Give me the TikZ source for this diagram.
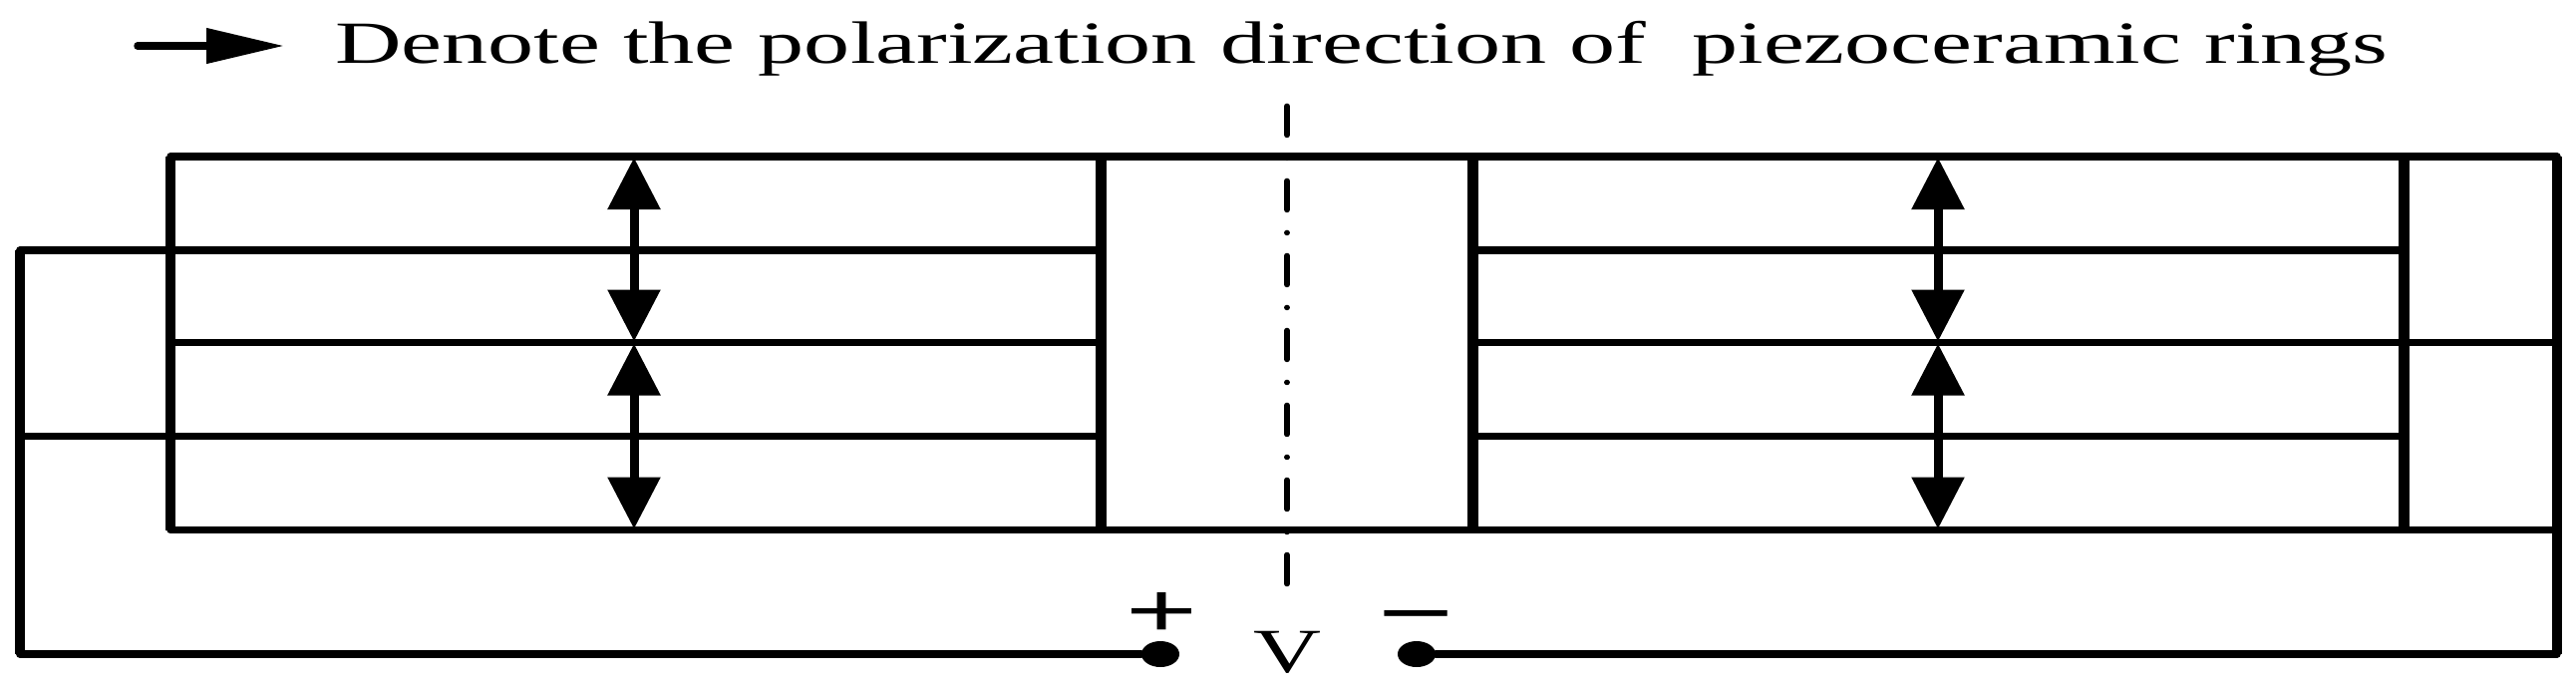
\documentclass[tikz,border=0pt]{standalone}
\usepackage{fontspec}
\usepackage{graphicx}
\setmainfont{Liberation Serif}
\newfontfamily\signfont{Liberation Sans}
\usetikzlibrary{arrows.meta}
\usetikzlibrary{shapes.geometric}
\tikzset{
    wire/.style={line width=7.5pt, line join=round, line cap=round},
    wall/.style={line width=10pt, line join=round},
    thickwall/.style={line width=11pt},
    polar/.style={line width=9pt, {Triangle[length=52pt,width=51pt]}-{Triangle[length=52pt,width=51pt]}},
    terminal/.style={draw=none, fill=black, ellipse, inner sep=0, minimum width=38pt, minimum height=26pt},
    sign/.style={inner sep=0, anchor=center}
}

\begin{document}
\begin{tikzpicture}[x=1pt, y=-1pt]
        \useasboundingbox (0,0) rectangle (2584,689);
        \pgfmathsetmacro{\yt}{157};
        \pgfmathsetmacro{\ya}{251};
        \pgfmathsetmacro{\ym}{343.5};
        \pgfmathsetmacro{\yb}{437.5};
        \pgfmathsetmacro{\yl}{531.5};
        \pgfmathsetmacro{\yw}{656};
        \pgfmathsetmacro{\xw}{20};
        \pgfmathsetmacro{\xl}{171};
        \pgfmathsetmacro{\xi}{1104};
        \pgfmathsetmacro{\xj}{1477};
        \pgfmathsetmacro{\xr}{2411};
        \pgfmathsetmacro{\xe}{2565};
        \node [terminal] (termplus) at (1164, \yw) {};
        \node [terminal] (termminus) at (1421, \yw) {};
        \node [sign] (plus) at (1166, 616) {\resizebox{72pt}{44pt}{\signfont +}};
        \node [sign] (minus) at (1421, 627) {\resizebox{76pt}{30pt}{\signfont −}};
        \node [anchor=base] (volt) at (1291, 674) {\resizebox{68pt}{\height}{\fontsize{63}{63}\selectfont V}};
        \node [anchor=base west, inner sep=0] (legend) at (336, 63) {\resizebox{2059pt}{\height}{\fontsize{60}{60}\selectfont Denote the polarization direction of\ \ piezoceramic rings}};
        \coordinate (legendstart) at (138, 46);
        \coordinate (legendtip) at (285, 46);
        \draw [wire, -{Triangle[length=78pt,width=34pt]}] (legendstart) -- (legendtip);
        \draw [wire] (\xl, \yt) -- (\xe, \yt);
        \draw [wire] (\xl, \yl) -- (\xe, \yl);
        \draw [wire] (\xl, \ym) -- (\xi, \ym);
        \draw [wire] (\xj, \ym) -- (\xe, \ym);
        \foreach \y in {\ya, \yb}
            \draw [wire] (\xj, \y) -- (\xr, \y);
        \draw [wire] (\xi, \ya) -- (\xw, \ya) -- (\xw, \yw) -- (termplus);
        \draw [wire] (\xi, \yb) -- (\xw, \yb);
        \draw [wire] (termminus) -- (\xe, \yw);
        \draw [wall] (\xw, \ya) -- (\xw, \yw);
        \draw [wall] (\xl, \yt) -- (\xl, \yl);
        \draw [wall] (\xe, \yt) -- (\xe, \yw);
        \foreach \x in {\xi, \xj, \xr}
            \draw [thickwall] (\x, \yt) -- (\x, \yl);
        \foreach \x in {636, 1944} {
            \draw [polar] (\x, \yt+1) -- (\x, \ym-1);
            \draw [polar] (\x, \ym+1) -- (\x, \yl-1);
        }
        \draw [line width=5.5pt, line cap=round, dash pattern=on 29pt off 23pt on 0.01pt off 23pt] (1291, 585.5) -- (1291, 106);
    \end{tikzpicture}
\end{document}
